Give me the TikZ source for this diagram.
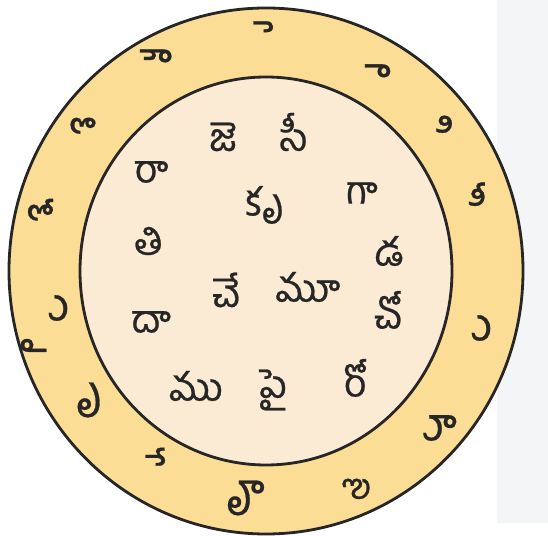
\documentclass[tikz,border=0pt]{standalone}
\usepackage{fontspec}
\newfontfamily\telugu[Script=Telugu, FakeBold=0.6]{Hind Guntur}
\definecolor{ringyellow}{HTML}{FCDD95}
\definecolor{innercream}{HTML}{FBEAD4}
\definecolor{sidegray}{HTML}{F4F5F7}
\definecolor{ink}{HTML}{262626}

\begin{document}
\begin{tikzpicture}[x=0.02cm, y=-0.02cm,
    ring/.style={line width=1.6pt, draw=ink},
    syl/.style={font=\telugu\fontsize{22pt}{22pt}\selectfont, text=ink, inner sep=0pt},
    signmark/.style={syl, font=\telugu\fontsize{26pt}{26pt}\selectfont}]
  \useasboundingbox (0,0) rectangle (548,536);
  \coordinate (O) at (266,271);
  % grey strip on the right edge
  \fill[sidegray] (497,0) rectangle (548,523);
  % the two discs
  \filldraw[ring, fill=ringyellow] (O) ellipse[x radius=257, y radius=263];
  \filldraw[ring, fill=innercream] (O) ellipse[x radius=186, y radius=194];
  % syllables in the inner disc
  \foreach \x/\y/\t [count=\i] in {223/137/జె, 294/132/సీ, 151/172/రా, 265/205/కృ,
      362/193/గా, 149/241/తి, 389/251/డ, 226/290/చే, 308/287/మూ, 151/322/దా,
      388/310/చో, 196/386/ము, 273/390/పై, 355/378/రో}
    \node[syl] (s\i) at (\x,\y) {\t};
  % vowel signs round the ring, each on a no-break space
  \foreach \x/\y/\t [count=\i] in {257/38/ె, 151/66/ౌ, 370/77/ా, 79/137/ొ,
      438/135/ి, 471/205/ీ, 36/221/ో, 54/308/ు, 28/345/ౖ, 84/400/ృ,
      149/468/ే, 240/498/ౄ, 352/488/ౢ, 477/328/ు, 435/428/ూ}
    \node[signmark] (m\i) at (\x,\y) {^^^^00a0\t};
\end{tikzpicture}
\end{document}
